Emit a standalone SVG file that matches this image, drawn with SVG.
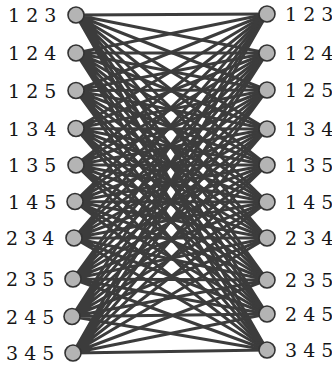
<svg xmlns="http://www.w3.org/2000/svg" width="332" height="367" viewBox="0 0 332 367">
<style>
.e{stroke:#3c3c3c;stroke-width:3;fill:none}
.n{fill:#b4b4b4;stroke:#333;stroke-width:1.6}
.t{font-family:"DejaVu Serif","Liberation Serif",serif;font-size:19px;fill:#151515}
</style>
<rect width="332" height="367" fill="#fff"/>
<g id="connectors">
<path class="e" d="M76 15L267 14M76 15L267 53M76 15L267 90M76 15L267 129M76 15L267 165M76 15L267 202M76 15L267 238M76 15L267 280M76 15L267 314M76 15L267 350"/>
<path class="e" d="M76 53L267 14M76 53L267 53M76 53L267 90M76 53L267 129M76 53L267 165M76 53L267 202M76 53L267 238M76 53L267 280M76 53L267 314M76 53L267 350"/>
<path class="e" d="M76 90.5L267 14M76 90.5L267 53M76 90.5L267 90M76 90.5L267 129M76 90.5L267 165M76 90.5L267 202M76 90.5L267 238M76 90.5L267 280M76 90.5L267 314M76 90.5L267 350"/>
<path class="e" d="M76 128.5L267 14M76 128.5L267 53M76 128.5L267 90M76 128.5L267 129M76 128.5L267 165M76 128.5L267 202M76 128.5L267 238M76 128.5L267 280M76 128.5L267 314M76 128.5L267 350"/>
<path class="e" d="M76 165L267 14M76 165L267 53M76 165L267 90M76 165L267 129M76 165L267 165M76 165L267 202M76 165L267 238M76 165L267 280M76 165L267 314M76 165L267 350"/>
<path class="e" d="M75 201.5L267 14M75 201.5L267 53M75 201.5L267 90M75 201.5L267 129M75 201.5L267 165M75 201.5L267 202M75 201.5L267 238M75 201.5L267 280M75 201.5L267 314M75 201.5L267 350"/>
<path class="e" d="M74 238L267 14M74 238L267 53M74 238L267 90M74 238L267 129M74 238L267 165M74 238L267 202M74 238L267 238M74 238L267 280M74 238L267 314M74 238L267 350"/>
<path class="e" d="M73 279L267 14M73 279L267 53M73 279L267 90M73 279L267 129M73 279L267 165M73 279L267 202M73 279L267 238M73 279L267 280M73 279L267 314M73 279L267 350"/>
<path class="e" d="M72 316.5L267 14M72 316.5L267 53M72 316.5L267 90M72 316.5L267 129M72 316.5L267 165M72 316.5L267 202M72 316.5L267 238M72 316.5L267 280M72 316.5L267 314M72 316.5L267 350"/>
<path class="e" d="M73 353L267 14M73 353L267 53M73 353L267 90M73 353L267 129M73 353L267 165M73 353L267 202M73 353L267 238M73 353L267 280M73 353L267 314M73 353L267 350"/>
</g>
<g id="L123"><circle class="n" cx="76" cy="15" r="8"/><text class="t" x="8" y="22">1 2 3</text></g>
<g id="L124"><circle class="n" cx="76" cy="53" r="8"/><text class="t" x="8" y="60">1 2 4</text></g>
<g id="L125"><circle class="n" cx="76" cy="90.5" r="8"/><text class="t" x="8" y="97.5">1 2 5</text></g>
<g id="L134"><circle class="n" cx="76" cy="128.5" r="8"/><text class="t" x="8" y="135.5">1 3 4</text></g>
<g id="L135"><circle class="n" cx="76" cy="165" r="8"/><text class="t" x="8" y="172">1 3 5</text></g>
<g id="L145"><circle class="n" cx="75" cy="201.5" r="8"/><text class="t" x="8" y="208.5">1 4 5</text></g>
<g id="L234"><circle class="n" cx="74" cy="238" r="8"/><text class="t" x="6" y="245">2 3 4</text></g>
<g id="L235"><circle class="n" cx="73" cy="279" r="8"/><text class="t" x="6" y="286">2 3 5</text></g>
<g id="L245"><circle class="n" cx="72" cy="316.5" r="8"/><text class="t" x="6" y="323.5">2 4 5</text></g>
<g id="L345"><circle class="n" cx="73" cy="353" r="8"/><text class="t" x="6" y="360">3 4 5</text></g>
<g id="R123"><circle class="n" cx="267" cy="14" r="8"/><text class="t" x="285" y="21">1 2 3</text></g>
<g id="R124"><circle class="n" cx="267" cy="53" r="8"/><text class="t" x="285" y="60">1 2 4</text></g>
<g id="R125"><circle class="n" cx="267" cy="90" r="8"/><text class="t" x="285" y="97">1 2 5</text></g>
<g id="R134"><circle class="n" cx="267" cy="129" r="8"/><text class="t" x="285" y="136">1 3 4</text></g>
<g id="R135"><circle class="n" cx="267" cy="165" r="8"/><text class="t" x="285" y="172">1 3 5</text></g>
<g id="R145"><circle class="n" cx="267" cy="202" r="8"/><text class="t" x="285" y="209">1 4 5</text></g>
<g id="R234"><circle class="n" cx="267" cy="238" r="8"/><text class="t" x="285" y="245">2 3 4</text></g>
<g id="R235"><circle class="n" cx="267" cy="280" r="8"/><text class="t" x="285" y="287">2 3 5</text></g>
<g id="R245"><circle class="n" cx="267" cy="314" r="8"/><text class="t" x="285" y="321">2 4 5</text></g>
<g id="R345"><circle class="n" cx="267" cy="350" r="8"/><text class="t" x="285" y="357">3 4 5</text></g>
</svg>
